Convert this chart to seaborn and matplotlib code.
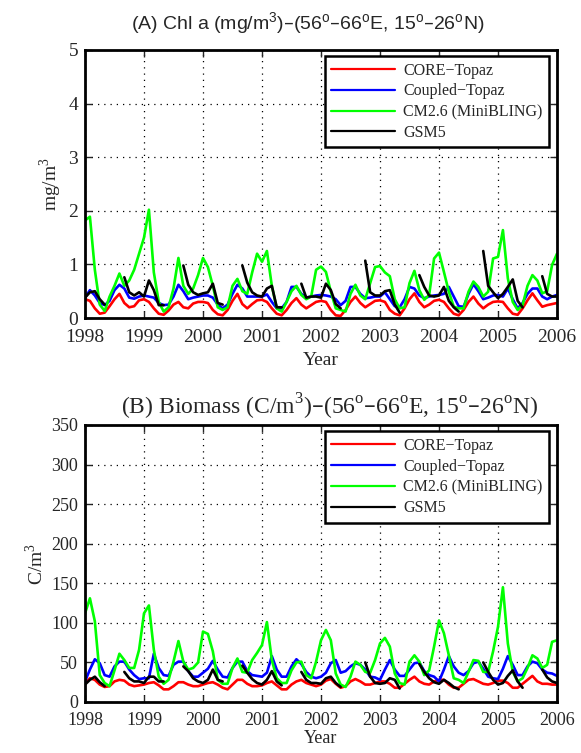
import numpy as np
import pandas as pd
import matplotlib
matplotlib.use('Agg')
import matplotlib.pyplot as plt
import seaborn as sns
from matplotlib.lines import Line2D

nan = np.nan

# monthly series, Jan 1998 .. Jan 2006 (97 values)
models = ['CORE\u2212Topaz', 'Coupled\u2212Topaz', 'CM2.6 (MiniBLING)', 'GSM5']
colors = ['#ff0000', '#0000ff', '#00ff00', '#000000']

# (A) Chl a, mg/m3
chl_core = [0.35, 0.32, 0.18, 0.08, 0.10, 0.22, 0.35, 0.45, 0.28, 0.20, 0.22, 0.33,
            0.35, 0.30, 0.18, 0.08, 0.06, 0.14, 0.25, 0.30, 0.20, 0.18, 0.27, 0.30,
            0.30, 0.28, 0.15, 0.07, 0.05, 0.15, 0.32, 0.45, 0.26, 0.18, 0.26, 0.33,
            0.34, 0.30, 0.18, 0.08, 0.05, 0.15, 0.28, 0.37, 0.25, 0.18, 0.24, 0.30,
            0.32, 0.30, 0.15, 0.05, 0.04, 0.15, 0.30, 0.40, 0.28, 0.20, 0.26, 0.32,
            0.33, 0.30, 0.15, 0.08, 0.05, 0.18, 0.35, 0.46, 0.30, 0.20, 0.25, 0.32,
            0.34, 0.30, 0.18, 0.08, 0.05, 0.15, 0.30, 0.40, 0.27, 0.18, 0.25, 0.30,
            0.31, 0.30, 0.18, 0.08, 0.06, 0.18, 0.33, 0.46, 0.33, 0.21, 0.24, 0.26,
            0.28]
chl_coupled = [0.38, 0.52, 0.42, 0.28, 0.24, 0.32, 0.52, 0.62, 0.55, 0.38, 0.36, 0.40,
               0.42, 0.40, 0.38, 0.28, 0.24, 0.25, 0.40, 0.62, 0.50, 0.35, 0.38, 0.40,
               0.42, 0.42, 0.38, 0.25, 0.18, 0.25, 0.45, 0.62, 0.55, 0.40, 0.40, 0.40,
               0.40, 0.44, 0.30, 0.18, 0.18, 0.30, 0.58, 0.58, 0.45, 0.38, 0.40, 0.42,
               0.43, 0.42, 0.40, 0.35, 0.24, 0.32, 0.58, 0.58, 0.45, 0.37, 0.38, 0.40,
               0.40, 0.48, 0.35, 0.22, 0.20, 0.35, 0.58, 0.55, 0.42, 0.37, 0.40, 0.42,
               0.43, 0.45, 0.58, 0.40, 0.22, 0.21, 0.45, 0.63, 0.50, 0.35, 0.38, 0.42,
               0.43, 0.40, 0.55, 0.35, 0.18, 0.28, 0.45, 0.55, 0.55, 0.40, 0.35, 0.40,
               0.43]
chl_cm26 = [1.82, 1.89, 0.90, 0.25, 0.13, 0.40, 0.60, 0.83, 0.60, 0.70, 0.90, 1.20,
            1.50, 2.02, 0.85, 0.30, 0.12, 0.20, 0.55, 1.12, 0.60, 0.45, 0.55, 0.80,
            1.12, 0.95, 0.60, 0.20, 0.15, 0.20, 0.60, 0.73, 0.50, 0.45, 0.85, 1.20,
            1.05, 1.25, 0.60, 0.18, 0.12, 0.30, 0.50, 0.60, 0.43, 0.35, 0.40, 0.90,
            0.96, 0.86, 0.49, 0.18, 0.15, 0.12, 0.45, 0.62, 0.42, 0.35, 0.65, 0.95,
            0.97, 0.85, 0.78, 0.35, 0.18, 0.20, 0.65, 0.88, 0.52, 0.34, 0.43, 1.11,
            1.22, 0.86, 0.49, 0.21, 0.18, 0.18, 0.49, 0.68, 0.58, 0.40, 0.49, 1.11,
            1.14, 1.64, 0.74, 0.30, 0.15, 0.24, 0.60, 0.80, 0.70, 0.46, 0.50, 0.99,
            1.20]
chl_gsm5 = [0.38, 0.48, 0.50, 0.35, 0.25, nan, nan, nan, 0.76, 0.48, 0.42, 0.48,
            0.40, 0.70, 0.52, 0.24, 0.24, nan, nan, nan, 0.98, 0.62, 0.48, 0.43,
            0.46, 0.48, 0.64, 0.28, 0.25, nan, nan, nan, 0.98, 0.66, 0.48, 0.42,
            0.40, 0.55, 0.60, 0.20, 0.20, nan, nan, nan, 0.64, 0.38, 0.40, 0.40,
            0.38, 0.64, 0.52, 0.26, 0.18, nan, nan, nan, nan, 1.07, 0.48, 0.42,
            0.42, 0.50, 0.52, 0.25, 0.10, nan, nan, nan, 0.80, 0.58, 0.42, 0.40,
            0.42, 0.58, 0.32, 0.20, 0.12, nan, nan, nan, nan, 1.25, 0.60, 0.48,
            0.37, 0.45, 0.58, 0.72, 0.32, 0.20, nan, nan, nan, 0.78, 0.45, 0.40,
            0.40]

# (B) Biomass, C/m3
bio_core = [24, 30, 28, 22, 19, 20, 26, 28, 27, 22, 20, 21,
            22, 24, 25, 21, 16, 16, 20, 25, 25, 22, 20, 20,
            22, 24, 25, 22, 18, 16, 22, 28, 28, 23, 20, 20,
            21, 24, 26, 21, 16, 16, 22, 26, 28, 24, 22, 20,
            22, 27, 29, 23, 18, 20, 26, 29, 26, 22, 22, 24,
            26, 26, 23, 18, 18, 23, 28, 32, 26, 23, 22, 26,
            28, 28, 22, 18, 18, 23, 28, 29, 26, 23, 22, 24,
            27, 27, 24, 18, 18, 23, 28, 33, 26, 23, 23, 22,
            22]
bio_coupled = [26, 41, 54, 49, 34, 32, 45, 51, 51, 41, 34, 29,
               30, 30, 61, 43, 34, 33, 47, 51, 51, 39, 32, 32,
               37, 42, 52, 41, 32, 31, 43, 51, 51, 39, 34, 33,
               32, 37, 58, 41, 32, 32, 45, 54, 48, 38, 32, 30,
               32, 37, 49, 53, 37, 39, 45, 49, 47, 41, 32, 31,
               28, 41, 53, 41, 33, 33, 41, 49, 50, 39, 34, 32,
               26, 41, 58, 45, 37, 34, 39, 49, 51, 42, 32, 30,
               29, 42, 58, 47, 34, 34, 45, 51, 49, 41, 37, 36,
               33]
bio_cm26 = [112, 131, 102, 34, 24, 20, 40, 61, 53, 43, 43, 66,
            112, 122, 66, 32, 23, 28, 51, 77, 51, 41, 43, 50,
            89, 86, 64, 28, 23, 23, 43, 55, 38, 37, 53, 62,
            72, 101, 53, 30, 24, 24, 40, 50, 51, 34, 30, 51,
            78, 91, 78, 36, 22, 19, 32, 51, 47, 38, 37, 53,
            74, 81, 70, 36, 24, 22, 51, 59, 51, 34, 40, 70,
            103, 87, 59, 30, 28, 24, 38, 53, 52, 38, 38, 64,
            95, 145, 74, 38, 26, 30, 43, 59, 55, 43, 47, 76,
            78]
bio_gsm5 = [22, 28, 32, 25, 20, nan, nan, nan, 38, 30, 26, 26,
            24, 32, 32, 26, 26, nan, nan, nan, 45, 39, 30, 26,
            24, 28, 41, 28, 26, nan, nan, nan, 46, 37, 29, 24,
            22, 28, 39, 26, 21, nan, nan, nan, 38, 28, 24, 24,
            23, 30, 32, 24, 19, nan, nan, nan, nan, 50, 32, 24,
            23, 24, 30, 28, 17, nan, nan, nan, 48, 38, 30, 25,
            23, 28, 24, 19, 16, nan, nan, nan, nan, 50, 38, 28,
            22, 24, 33, 40, 26, 18, nan, nan, nan, 41, 31, 26,
            24]

years = 1998 + np.arange(97) / 12.0


def to_long(series):
    frames = []
    for name, vals in zip(models, series):
        v = np.array(vals, dtype=float)
        seg = np.cumsum(np.isnan(v))  # new segment after each gap
        d = pd.DataFrame({'year': years, 'value': v, 'model': name,
                          'seg': [f'{name}_{s}' for s in seg]})
        frames.append(d.dropna())
    return pd.concat(frames, ignore_index=True)


sns.set_style('ticks')
plt.rcParams['font.family'] = ['Liberation Serif', 'DejaVu Serif']
plt.rcParams['axes.linewidth'] = 2

fig = plt.figure(figsize=(5.81, 7.53), dpi=100)
ax1 = fig.add_axes([85 / 581, 1 - 318 / 753, 472 / 581, 268 / 753])
ax2 = fig.add_axes([85 / 581, 1 - 702 / 753, 472 / 581, 277 / 753])

# axis, data, ymax, ystep, ylabel, xlabel pad, x tick pad, tick size
panels = [
    (ax1, to_long([chl_core, chl_coupled, chl_cm26, chl_gsm5]), 5, 1,
     'mg/m$^\\mathregular{3}$', 4, 8, 14),
    (ax2, to_long([bio_core, bio_coupled, bio_cm26, bio_gsm5]), 350, 50,
     'C/m$^\\mathregular{3}$', 1, 7, 13),
]

for ax, df, ymax, ystep, ylab, xpad, tpad, tsize in panels:
    sns.lineplot(data=df, x='year', y='value', hue='model', units='seg',
                 estimator=None, palette=dict(zip(models, colors)),
                 hue_order=models, linewidth=1.9, legend=False, ax=ax)
    ax.set_xlim(1998, 2006)
    ax.set_ylim(0, ymax)
    ax.set_xticks(range(1998, 2007))
    ax.set_yticks(np.arange(0, ymax + ystep / 2, ystep))
    ax.tick_params(direction='in', top=True, right=True, length=5, width=1,
                   labelsize=tsize)
    ax.tick_params(axis='x', pad=tpad)
    ax.tick_params(axis='y', pad=5)
    ax.grid(True, linestyle=(0, (1, 4)), color='black', linewidth=0.9)
    ax.set_xlabel('Year', fontsize=tsize, labelpad=xpad)
    ax.set_ylabel(ylab, fontsize=14, labelpad=3)
    for s in ax.spines.values():
        s.set_linewidth(2)
        s.set_color('black')
    handles = [Line2D([], [], color=c, linewidth=1.6) for c in colors]
    leg = ax.legend(handles, models, loc='upper right',
                    bbox_to_anchor=(0.983, 0.977), borderaxespad=0,
                    fontsize=11.5, handlelength=4.0, handletextpad=0.5,
                    labelspacing=0.3, borderpad=0.4,
                    fancybox=False, framealpha=1, edgecolor='black')
    leg.get_frame().set_linewidth(1.8)

fig.text(308 / 581, 1 - 24 / 753,
         '(A) Chl a (mg/m$^\\mathregular{3}$)\u2013(56$^\\mathregular{o}$\u201366$^\\mathregular{o}$E, '
         '15$^\\mathregular{o}$\u201326$^\\mathregular{o}$N)',
         ha='center', va='center', fontsize=14,
         family=['Liberation Sans', 'DejaVu Sans'])
fig.text(330 / 581, 1 - 407 / 753,
         '(B) Biomass (C/m$^\\mathregular{3}$)\u2013(56$^\\mathregular{o}$\u201366$^\\mathregular{o}$E, '
         '15$^\\mathregular{o}$\u201326$^\\mathregular{o}$N)',
         ha='center', va='center', fontsize=17)

fig.savefig('out.png', dpi=100)
